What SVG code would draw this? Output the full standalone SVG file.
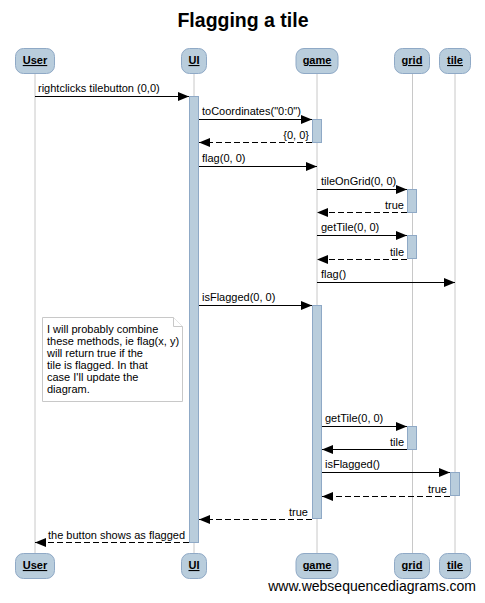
<svg xmlns="http://www.w3.org/2000/svg" width="485" height="603" viewBox="0 0 485 603">
<style>
text{font-family:"Liberation Sans",Arial,sans-serif;fill:#000}
.title{font-size:19.5px;font-weight:bold}
.hd{font-size:11px;font-weight:bold;text-decoration:underline;text-anchor:middle}
.lbl{font-size:11px}
.r{text-anchor:end}
.box{fill:#b9cddc;stroke:#8fa9c6;stroke-width:1}
.life{stroke:#c8c8c8;stroke-width:1}
.act{fill:#b9cddc;stroke:#8fa9c6;stroke-width:1}
.msg{stroke:#000;stroke-width:1;fill:none;marker-end:url(#ah)}
.ret{stroke-dasharray:6,3}
.note{fill:#fff;stroke:#c8c8c8;stroke-width:1}
.foot{font-size:14px}
</style>
<defs>
<marker id="ah" markerUnits="userSpaceOnUse" markerWidth="11" markerHeight="9" refX="11" refY="4.5" orient="auto"><path d="M0,0 L11,4.5 L0,9 z" fill="#000"/></marker>
</defs>
<rect width="485" height="603" fill="#fff"/>
<text class="title" x="243" y="27" text-anchor="middle">Flagging a tile</text>

<g id="lifelines">
<line class="life" x1="35" y1="73" x2="35" y2="553"/>
<line class="life" x1="194" y1="73" x2="194" y2="553"/>
<line class="life" x1="317" y1="73" x2="317" y2="553"/>
<line class="life" x1="412.5" y1="73" x2="412.5" y2="553"/>
<line class="life" x1="455" y1="73" x2="455" y2="553"/>
</g>

<g id="User">
<rect class="box" x="15.5" y="48.5" width="39" height="25" rx="8"/>
<text class="hd" x="35" y="64">User</text>
<rect class="box" x="15.5" y="553.5" width="39" height="25" rx="8"/>
<text class="hd" x="35" y="569">User</text>
</g>
<g id="UI">
<rect class="box" x="181.5" y="48.5" width="25" height="25" rx="8"/>
<text class="hd" x="194" y="64">UI</text>
<rect class="box" x="181.5" y="553.5" width="25" height="25" rx="8"/>
<text class="hd" x="194" y="569">UI</text>
<rect class="act" x="189.5" y="96.5" width="9" height="446"/>
</g>
<g id="game">
<rect class="box" x="296" y="48.5" width="42" height="25" rx="8"/>
<text class="hd" x="317" y="64">game</text>
<rect class="box" x="296" y="553.5" width="42" height="25" rx="8"/>
<text class="hd" x="317" y="569">game</text>
<rect class="act" x="312.5" y="119.5" width="9" height="23"/>
<rect class="act" x="312.5" y="305.5" width="9" height="213"/>
</g>
<g id="grid">
<rect class="box" x="394.5" y="48.5" width="35" height="25" rx="8"/>
<text class="hd" x="412" y="64">grid</text>
<rect class="box" x="394.5" y="553.5" width="35" height="25" rx="8"/>
<text class="hd" x="412" y="569">grid</text>
<rect class="act" x="407.5" y="189.5" width="9" height="23"/>
<rect class="act" x="407.5" y="235.5" width="9" height="23"/>
<rect class="act" x="407.5" y="426.5" width="9" height="23"/>
</g>
<g id="tile">
<rect class="box" x="439.5" y="48.5" width="31" height="25" rx="8"/>
<text class="hd" x="455" y="64">tile</text>
<rect class="box" x="439.5" y="553.5" width="31" height="25" rx="8"/>
<text class="hd" x="455" y="569">tile</text>
<rect class="act" x="450.5" y="472.5" width="9" height="23"/>
</g>

<g id="note">
<path class="note" d="M42.5,317.5 H173.5 L182.5,326.5 V401.5 H42.5 Z"/>
<path class="note" d="M173.5,317.5 V326.5 H182.5" fill="none"/>
<text class="lbl" x="47" y="333">I will probably combine</text>
<text class="lbl" x="47" y="345">these methods, ie flag(x, y)</text>
<text class="lbl" x="47" y="357">will return true if the</text>
<text class="lbl" x="47" y="369">tile is flagged. In that</text>
<text class="lbl" x="47" y="381">case I'll update the</text>
<text class="lbl" x="47" y="393">diagram.</text>
</g>

<g id="connectors">
<line class="msg" x1="35" y1="96.5" x2="189" y2="96.5"/>
<text class="lbl" x="38" y="92">rightclicks tilebutton (0,0)</text>
<line class="msg" x1="199" y1="119.5" x2="312" y2="119.5"/>
<text class="lbl" x="202" y="115">toCoordinates("0:0")</text>
<line class="msg ret" x1="312" y1="142.5" x2="199" y2="142.5"/>
<text class="lbl r" x="309" y="139">{0, 0}</text>
<line class="msg" x1="199" y1="166.5" x2="317" y2="166.5"/>
<text class="lbl" x="202" y="162">flag(0, 0)</text>
<line class="msg" x1="317" y1="189.5" x2="407" y2="189.5"/>
<text class="lbl" x="321" y="185">tileOnGrid(0, 0)</text>
<line class="msg ret" x1="407" y1="212.5" x2="317" y2="212.5"/>
<text class="lbl r" x="404" y="209">true</text>
<line class="msg" x1="317" y1="235.5" x2="407" y2="235.5"/>
<text class="lbl" x="321" y="231">getTile(0, 0)</text>
<line class="msg ret" x1="407" y1="259.5" x2="317" y2="259.5"/>
<text class="lbl r" x="404" y="256">tile</text>
<line class="msg" x1="317" y1="282.5" x2="455" y2="282.5"/>
<text class="lbl" x="321" y="278">flag()</text>
<line class="msg" x1="199" y1="305.5" x2="312" y2="305.5"/>
<text class="lbl" x="202" y="301">isFlagged(0, 0)</text>
<line class="msg" x1="322" y1="426.5" x2="407" y2="426.5"/>
<text class="lbl" x="325" y="422">getTile(0, 0)</text>
<line class="msg" x1="407" y1="449.5" x2="322" y2="449.5"/>
<text class="lbl r" x="404" y="446">tile</text>
<line class="msg" x1="322" y1="472.5" x2="450" y2="472.5"/>
<text class="lbl" x="325" y="468">isFlagged()</text>
<line class="msg ret" x1="450" y1="496.5" x2="322" y2="496.5"/>
<text class="lbl r" x="447" y="493">true</text>
<line class="msg ret" x1="312" y1="519.5" x2="199" y2="519.5"/>
<text class="lbl r" x="308" y="516">true</text>
<line class="msg ret" x1="189" y1="542.5" x2="35" y2="542.5"/>
<text class="lbl r" x="185" y="539">the button shows as flagged</text>
</g>

<text class="foot" x="476" y="591" text-anchor="end">www.websequencediagrams.com</text>
</svg>
